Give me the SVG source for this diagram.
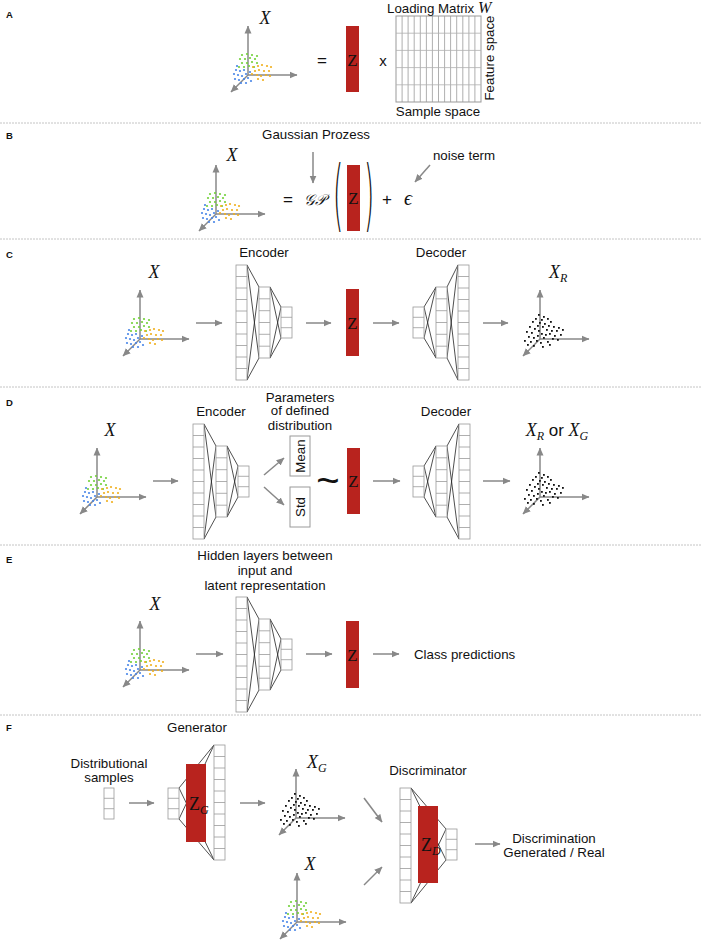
<svg xmlns="http://www.w3.org/2000/svg" xmlns:xlink="http://www.w3.org/1999/xlink" width="702" height="941" viewBox="0 0 702 941">
<style>
.lbl{font-family:"Liberation Sans",Arial,sans-serif;font-size:13.3px;fill:#111}
.mid{text-anchor:middle}
.pl{font-family:"Liberation Sans",Arial,sans-serif;font-size:9.5px;font-weight:bold;fill:#111}
.mx{font-family:"Liberation Serif","Times New Roman",serif;font-style:italic;font-size:18px;fill:#111}
.cell{fill:#fff;stroke:#9a9a9a;stroke-width:0.8}
.cl{stroke:#9a9a9a;stroke-width:0.8;fill:none}
.conn{stroke:#222;stroke-width:0.8;fill:none}
.red{fill:#b8231e}
.arr{stroke:#888;stroke-width:1.5;fill:none;marker-end:url(#ah)}
.ax{stroke:#888;stroke-width:1.5;fill:none;marker-end:url(#ah)}
.sep{stroke:#c4c4c4;stroke-width:1;stroke-dasharray:2 1}
.g{fill:#72d13a}.b{fill:#4a86e8}.o{fill:#f0b020}.k{fill:#111}
.box{fill:#fff;stroke:#9a9a9a;stroke-width:1}
.par{font-family:"DejaVu Sans",sans-serif;font-weight:200;font-size:79px;fill:#111}
</style>
<defs>
<marker id="ah" markerUnits="userSpaceOnUse" markerWidth="8" markerHeight="8" viewBox="0 0 8 8" refX="7.5" refY="4" orient="auto">
<path d="M0,0.5 L8,4 L0,7.5 z" fill="#888"/>
</marker>
<g id="axes">
<line class="ax" x1="0" y1="0" x2="0" y2="-49"/>
<line class="ax" x1="0" y1="0" x2="49" y2="0"/>
<line class="ax" x1="0" y1="0" x2="-17" y2="17"/>
</g>
<g id="cdots">
<g class="g">
<circle cx="-6" cy="-20" r="1.1"/><circle cx="-1" cy="-21" r="1.1"/><circle cx="4" cy="-20" r="1.1"/><circle cx="9" cy="-19" r="1.1"/>
<circle cx="-8" cy="-16" r="1.1"/><circle cx="-3" cy="-16" r="1.1"/><circle cx="2" cy="-17" r="1.1"/><circle cx="7" cy="-16" r="1.1"/>
<circle cx="-6" cy="-12" r="1.1"/><circle cx="-1" cy="-12" r="1.1"/><circle cx="4" cy="-13" r="1.1"/><circle cx="9" cy="-12" r="1.1"/>
<circle cx="-9" cy="-8" r="1.1"/><circle cx="-4" cy="-8" r="1.1"/><circle cx="1" cy="-9" r="1.1"/><circle cx="6" cy="-8" r="1.1"/>
</g>
<g class="o">
<circle cx="5" cy="-8" r="1.1"/><circle cx="10" cy="-9" r="1.1"/><circle cx="14" cy="-10" r="1.1"/><circle cx="19" cy="-9" r="1.1"/><circle cx="23" cy="-8" r="1.1"/>
<circle cx="7" cy="-4" r="1.1"/><circle cx="11" cy="-5" r="1.1"/><circle cx="16" cy="-4" r="1.1"/><circle cx="21" cy="-4" r="1.1"/>
<circle cx="4" cy="-1" r="1.1"/><circle cx="9" cy="0" r="1.1"/><circle cx="13" cy="1" r="1.1"/><circle cx="18" cy="0" r="1.1"/><circle cx="22" cy="1" r="1.1"/>
<circle cx="10" cy="4" r="1.1"/><circle cx="15" cy="5" r="1.1"/>
</g>
<g class="b">
<circle cx="-11" cy="-9" r="1.1"/><circle cx="-12" cy="-5" r="1.1"/><circle cx="-8" cy="-4" r="1.1"/><circle cx="-4" cy="-5" r="1.1"/>
<circle cx="-14" cy="-1" r="1.1"/><circle cx="-10" cy="0" r="1.1"/><circle cx="-6" cy="1" r="1.1"/><circle cx="-2" cy="-1" r="1.1"/><circle cx="2" cy="-3" r="1.1"/>
<circle cx="-13" cy="4" r="1.1"/><circle cx="-9" cy="5" r="1.1"/><circle cx="-4" cy="4" r="1.1"/><circle cx="0" cy="3" r="1.1"/>
<circle cx="-7" cy="8" r="1.1"/><circle cx="-2" cy="8" r="1.1"/><circle cx="3" cy="6" r="1.1"/>
</g>
</g>
<g id="kdots" class="k">
<rect x="-2" y="-25" width="1.8" height="1.8"/><rect x="3" y="-23" width="1.8" height="1.8"/><rect x="-5" y="-21" width="1.8" height="1.8"/><rect x="1" y="-20" width="1.8" height="1.8"/><rect x="7" y="-21" width="1.8" height="1.8"/>
<rect x="-8" y="-18" width="1.8" height="1.8"/><rect x="-1" y="-17" width="1.8" height="1.8"/><rect x="4" y="-16" width="1.8" height="1.8"/><rect x="10" y="-18" width="1.8" height="1.8"/>
<rect x="-3" y="-14" width="1.8" height="1.8"/><rect x="2" y="-13" width="1.8" height="1.8"/><rect x="8" y="-14" width="1.8" height="1.8"/><rect x="13" y="-13" width="1.8" height="1.8"/><rect x="18" y="-12" width="1.8" height="1.8"/>
<rect x="-11" y="-13" width="1.8" height="1.8"/><rect x="-6" y="-11" width="1.8" height="1.8"/><rect x="6" y="-10" width="1.8" height="1.8"/><rect x="11" y="-9" width="1.8" height="1.8"/><rect x="16" y="-9" width="1.8" height="1.8"/><rect x="22" y="-10" width="1.8" height="1.8"/>
<rect x="-14" y="-8" width="1.8" height="1.8"/><rect x="-9" y="-7" width="1.8" height="1.8"/><rect x="-2" y="-9" width="1.8" height="1.8"/><rect x="1" y="-6" width="1.8" height="1.8"/><rect x="5" y="-5" width="1.8" height="1.8"/><rect x="9" y="-6" width="1.8" height="1.8"/><rect x="14" y="-4" width="1.8" height="1.8"/><rect x="20" y="-5" width="1.8" height="1.8"/>
<rect x="-12" y="-3" width="1.8" height="1.8"/><rect x="-7" y="-2" width="1.8" height="1.8"/><rect x="-3" y="-4" width="1.8" height="1.8"/><rect x="3" y="-2" width="1.8" height="1.8"/><rect x="12" y="-1" width="1.8" height="1.8"/><rect x="17" y="0" width="1.8" height="1.8"/>
<rect x="-16" y="1" width="1.8" height="1.8"/><rect x="-10" y="2" width="1.8" height="1.8"/><rect x="-4" y="1" width="1.8" height="1.8"/><rect x="0" y="3" width="1.8" height="1.8"/><rect x="7" y="2" width="1.8" height="1.8"/>
<rect x="-13" y="5" width="1.8" height="1.8"/><rect x="-7" y="6" width="1.8" height="1.8"/><rect x="2" y="7" width="1.8" height="1.8"/><rect x="9" y="5" width="1.8" height="1.8"/>
</g>
</defs>
<rect width="702" height="941" fill="#fff"/>

<!-- separators -->
<g id="separators">
<line class="sep" x1="0" y1="123" x2="702" y2="123"/>
<line class="sep" x1="0" y1="239" x2="702" y2="239"/>
<line class="sep" x1="0" y1="387" x2="702" y2="387"/>
<line class="sep" x1="0" y1="545" x2="702" y2="545"/>
<line class="sep" x1="0" y1="715" x2="702" y2="715"/>
</g>

<!-- panel labels -->
<g id="panel-labels">
<text class="pl" x="6" y="18">A</text>
<text class="pl" x="6" y="139">B</text>
<text class="pl" x="6" y="258">C</text>
<text class="pl" x="6" y="406">D</text>
<text class="pl" x="6" y="563">E</text>
<text class="pl" x="6" y="731">F</text>
</g>

<!-- ===== Panel A ===== -->
<g id="A-data">
<text class="mx mid" x="265" y="24">X</text>
<use xlink:href="#axes" transform="translate(248,75)"/>
<use xlink:href="#cdots" transform="translate(248,75)"/>
</g>
<g id="A-eq"><text class="lbl mid" x="322" y="66" style="font-size:17px">=</text></g>
<g id="A-Z">
<rect class="red" x="346" y="26" width="13" height="66"/>
<text class="mx mid" x="352.5" y="65.5" style="font-style:normal;font-size:17px">Z</text>
</g>
<g id="A-times"><text class="lbl mid" x="383" y="66" style="font-size:15px">x</text></g>
<g id="A-matrix">
<rect x="396" y="16" width="85" height="86" fill="#fff" stroke="#999" stroke-width="1"/>
<path class="cl" d="M402.1,16V102M408.1,16V102M414.2,16V102M420.3,16V102M426.4,16V102M432.4,16V102M438.5,16V102M444.6,16V102M450.6,16V102M456.7,16V102M462.8,16V102M468.9,16V102M474.9,16V102"/>
<path d="M396,33.2H481M396,50.4H481M396,67.6H481M396,84.8H481" stroke="#b0b0b0" stroke-width="0.8"/>
<text class="lbl" x="387" y="13">Loading Matrix <tspan class="mx" style="font-size:16px">W</tspan></text>
<text class="lbl mid" transform="translate(494,58) rotate(-90)">Feature space</text>
<text class="lbl mid" x="438" y="115.5">Sample space</text>
</g>

<!-- ===== Panel B ===== -->
<g id="B-data">
<text class="mx mid" x="232" y="161">X</text>
<use xlink:href="#axes" transform="translate(216,214)"/>
<use xlink:href="#cdots" transform="translate(216,214)"/>
</g>
<g id="B-gp-label"><text class="lbl mid" x="316" y="138.5">Gaussian Prozess</text></g>
<g id="B-formula">
<text class="lbl mid" x="288" y="205" style="font-size:17px">=</text>
<text x="315" y="205" text-anchor="middle" style="font-family:'DejaVu Serif','Noto Sans',serif;font-size:15px;font-style:italic;fill:#111">𝒢𝒫</text>
<text class="par" transform="translate(333,222) scale(0.33,1)">(</text>
<rect class="red" x="347" y="165" width="13" height="66"/>
<text class="mx mid" x="353.5" y="204" style="font-style:normal;font-size:17px">Z</text>
<text class="par" transform="translate(364,222) scale(0.33,1)">)</text>
<text class="lbl mid" x="387" y="205" style="font-size:17px">+</text>
<text class="mx mid" x="408" y="205" style="font-size:20px">ϵ</text>
</g>
<g id="B-noise"><text class="lbl mid" x="464" y="159.5">noise term</text></g>

<!-- ===== Panel C ===== -->
<g id="C-input">
<text class="mx mid" x="154" y="278">X</text>
<use xlink:href="#axes" transform="translate(140,339)"/>
<use xlink:href="#cdots" transform="translate(140,339)"/>
</g>
<g id="C-encoder">
<text class="lbl mid" x="264" y="256.5">Encoder</text>
<path class="conn" d="M247,265L259,287M247,265L259,358M247,380L259,287M247,380L259,358M270,287L281,307M270,287L281,338M270,358L281,307M270,358L281,338"/>
<rect class="cell" x="236" y="265" width="11" height="115"/>
<path class="cl" d="M236,276.5h11M236,288h11M236,299.5h11M236,311h11M236,322.5h11M236,334h11M236,345.5h11M236,357h11M236,368.5h11"/>
<rect class="cell" x="259" y="287" width="11" height="71"/>
<path class="cl" d="M259,298.8h11M259,310.7h11M259,322.5h11M259,334.3h11M259,346.2h11"/>
<rect class="cell" x="281" y="307" width="11" height="31"/>
<path class="cl" d="M281,317.3h11M281,327.7h11"/>
</g>
<g id="C-latent">
<rect class="red" x="346" y="289" width="13" height="67"/>
<text class="mx mid" x="352.5" y="328.5" style="font-style:normal;font-size:17px">Z</text>
</g>
<g id="C-decoder">
<text class="lbl mid" x="441" y="256.5">Decoder</text>
<path class="conn" d="M424,307L436,287M424,307L436,358M424,338L436,287M424,338L436,358M447,287L458,265M447,287L458,380M447,358L458,265M447,358L458,380"/>
<rect class="cell" x="413" y="307" width="11" height="31"/>
<path class="cl" d="M413,317.3h11M413,327.7h11"/>
<rect class="cell" x="436" y="287" width="11" height="71"/>
<path class="cl" d="M436,298.8h11M436,310.7h11M436,322.5h11M436,334.3h11M436,346.2h11"/>
<rect class="cell" x="458" y="265" width="11" height="115"/>
<path class="cl" d="M458,276.5h11M458,288h11M458,299.5h11M458,311h11M458,322.5h11M458,334h11M458,345.5h11M458,357h11M458,368.5h11"/>
</g>
<g id="C-output">
<text class="mx" x="549" y="278">X<tspan dy="4" style="font-size:12px">R</tspan></text>
<use xlink:href="#axes" transform="translate(540,339)"/>
<use xlink:href="#kdots" transform="translate(540,339)"/>
</g>

<!-- ===== Panel D ===== -->
<g id="D-input">
<text class="mx mid" x="110" y="436">X</text>
<use xlink:href="#axes" transform="translate(97,497)"/>
<use xlink:href="#cdots" transform="translate(97,497)"/>
</g>
<g id="D-encoder">
<text class="lbl mid" x="221" y="415.5">Encoder</text>
<path class="conn" d="M204,424L216,446M204,424L216,517M204,539L216,446M204,539L216,517M227,446L238,466M227,446L238,497M227,517L238,466M227,517L238,497"/>
<rect class="cell" x="193" y="424" width="11" height="115"/>
<path class="cl" d="M193,435.5h11M193,447h11M193,458.5h11M193,470h11M193,481.5h11M193,493h11M193,504.5h11M193,516h11M193,527.5h11"/>
<rect class="cell" x="216" y="446" width="11" height="71"/>
<path class="cl" d="M216,457.8h11M216,469.7h11M216,481.5h11M216,493.3h11M216,505.2h11"/>
<rect class="cell" x="238" y="466" width="11" height="31"/>
<path class="cl" d="M238,476.3h11M238,486.7h11"/>
</g>
<g id="D-params">
<text class="lbl mid" x="300" y="401.5">Parameters</text>
<text class="lbl mid" x="300" y="415">of defined</text>
<text class="lbl mid" x="300" y="429.5">distribution</text>
</g>
<g id="D-mean">
<rect class="box" x="290" y="436" width="20" height="40"/>
<text class="lbl mid" transform="translate(305,456) rotate(-90)">Mean</text>
</g>
<g id="D-std">
<rect class="box" x="290" y="487" width="20" height="40"/>
<text class="lbl mid" transform="translate(305,507) rotate(-90)">Std</text>
</g>
<g id="D-tilde"><text class="lbl mid" x="328" y="494" style="font-size:40px">~</text></g>
<g id="D-latent">
<rect class="red" x="347" y="448" width="13" height="66"/>
<text class="mx mid" x="353.5" y="487" style="font-style:normal;font-size:17px">Z</text>
</g>
<g id="D-decoder">
<text class="lbl mid" x="446" y="415.5">Decoder</text>
<path class="conn" d="M424,466L436,446M424,466L436,517M424,497L436,446M424,497L436,517M447,446L459,424M447,446L459,539M447,517L459,424M447,517L459,539"/>
<rect class="cell" x="413" y="466" width="11" height="31"/>
<path class="cl" d="M413,476.3h11M413,486.7h11"/>
<rect class="cell" x="436" y="446" width="11" height="71"/>
<path class="cl" d="M436,457.8h11M436,469.7h11M436,481.5h11M436,493.3h11M436,505.2h11"/>
<rect class="cell" x="459" y="424" width="11" height="115"/>
<path class="cl" d="M459,435.5h11M459,447h11M459,458.5h11M459,470h11M459,481.5h11M459,493h11M459,504.5h11M459,516h11M459,527.5h11"/>
</g>
<g id="D-output">
<text class="mx mid" x="557" y="436"><tspan>X</tspan><tspan dy="4" style="font-size:12px">R</tspan><tspan dy="-4" class="lbl" style="font-style:normal;font-size:17px"> or </tspan><tspan>X</tspan><tspan dy="4" style="font-size:12px">G</tspan></text>
<use xlink:href="#axes" transform="translate(540,497)"/>
<use xlink:href="#kdots" transform="translate(540,497)"/>
</g>

<!-- ===== Panel E ===== -->
<g id="E-input">
<text class="mx mid" x="155" y="610">X</text>
<use xlink:href="#axes" transform="translate(140,670)"/>
<use xlink:href="#cdots" transform="translate(140,670)"/>
</g>
<g id="E-hidden">
<text class="lbl mid" x="265" y="559.5">Hidden layers between</text>
<text class="lbl mid" x="265" y="575">input and</text>
<text class="lbl mid" x="265" y="589.5">latent representation</text>
<path class="conn" d="M247,597L259,619M247,597L259,690M247,712L259,619M247,712L259,690M270,619L281,639M270,619L281,670M270,690L281,639M270,690L281,670"/>
<rect class="cell" x="236" y="597" width="11" height="115"/>
<path class="cl" d="M236,608.5h11M236,620h11M236,631.5h11M236,643h11M236,654.5h11M236,666h11M236,677.5h11M236,689h11M236,700.5h11"/>
<rect class="cell" x="259" y="619" width="11" height="71"/>
<path class="cl" d="M259,630.8h11M259,642.7h11M259,654.5h11M259,666.3h11M259,678.2h11"/>
<rect class="cell" x="281" y="639" width="11" height="31"/>
<path class="cl" d="M281,649.3h11M281,659.7h11"/>
</g>
<g id="E-latent">
<rect class="red" x="346" y="621" width="13" height="67"/>
<text class="mx mid" x="352.5" y="660.5" style="font-style:normal;font-size:17px">Z</text>
</g>
<g id="E-class"><text class="lbl" x="414" y="659">Class predictions</text></g>

<!-- ===== Panel F ===== -->
<g id="F-samples">
<text class="lbl mid" x="109" y="767.5">Distributional</text>
<text class="lbl mid" x="109" y="781.5">samples</text>
<rect class="cell" x="104" y="788" width="10" height="31"/>
<path class="cl" d="M104,798.3h10M104,808.7h10"/>
</g>
<g id="F-generator">
<text class="lbl mid" x="197" y="731.5">Generator</text>
<path class="conn" d="M179,788L214,745M179,788L214,860M179,819L214,745M179,819L214,860"/>
<rect class="cell" x="168" y="788" width="11" height="31"/>
<path class="cl" d="M168,798.3h11M168,808.7h11"/>
<rect class="red" x="186" y="764" width="20" height="78"/>
<text class="mx" x="189" y="810" style="font-style:normal">Z<tspan dy="4" style="font-size:12px;font-style:italic">G</tspan></text>
<rect class="cell" x="214" y="745" width="11" height="115"/>
<path class="cl" d="M214,756.5h11M214,768h11M214,779.5h11M214,791h11M214,802.5h11M214,814h11M214,825.5h11M214,837h11M214,848.5h11"/>
</g>
<g id="F-generated">
<text class="mx" x="307" y="768">X<tspan dy="4" style="font-size:12px">G</tspan></text>
<use xlink:href="#axes" transform="translate(296,818)"/>
<use xlink:href="#kdots" transform="translate(296,818)"/>
</g>
<g id="F-real">
<text class="mx mid" x="310" y="870">X</text>
<use xlink:href="#axes" transform="translate(297,922)"/>
<use xlink:href="#cdots" transform="translate(297,922)"/>
</g>
<g id="F-discriminator">
<text class="lbl mid" x="428" y="774.5">Discriminator</text>
<path class="conn" d="M411,788L446,829M411,788L446,860M411,903L446,829M411,903L446,860"/>
<rect class="cell" x="400" y="788" width="11" height="115"/>
<path class="cl" d="M400,799.5h11M400,811h11M400,822.5h11M400,834h11M400,845.5h11M400,857h11M400,868.5h11M400,880h11M400,891.5h11"/>
<rect class="red" x="418" y="806" width="20" height="77"/>
<text class="mx" x="421" y="851" style="font-style:normal">Z<tspan dy="4" style="font-size:12px;font-style:italic">D</tspan></text>
<rect class="cell" x="446" y="829" width="11" height="31"/>
<path class="cl" d="M446,839.3h11M446,849.7h11"/>
</g>
<g id="F-result">
<text class="lbl mid" x="554" y="842.5">Discrimination</text>
<text class="lbl mid" x="554" y="856.5">Generated / Real</text>
</g>

<!-- connectors -->
<g id="connectors">
<line class="arr" x1="313" y1="152" x2="313" y2="183"/>
<line class="arr" x1="430" y1="165" x2="415" y2="182"/>
<line class="arr" x1="196" y1="323" x2="222" y2="323"/>
<line class="arr" x1="306" y1="323" x2="331" y2="323"/>
<line class="arr" x1="373" y1="323" x2="399" y2="323"/>
<line class="arr" x1="483" y1="323" x2="508" y2="323"/>
<line class="arr" x1="153" y1="481" x2="178" y2="481"/>
<line class="arr" x1="264" y1="475" x2="284" y2="458"/>
<line class="arr" x1="264" y1="487" x2="284" y2="505"/>
<line class="arr" x1="373" y1="481" x2="400" y2="481"/>
<line class="arr" x1="483" y1="481" x2="510" y2="481"/>
<line class="arr" x1="196" y1="654" x2="223" y2="654"/>
<line class="arr" x1="306" y1="654" x2="332" y2="654"/>
<line class="arr" x1="373" y1="654" x2="399" y2="654"/>
<line class="arr" x1="129" y1="803" x2="154" y2="803"/>
<line class="arr" x1="240" y1="803" x2="265" y2="803"/>
<line class="arr" x1="364" y1="798" x2="382" y2="822"/>
<line class="arr" x1="364" y1="885" x2="382" y2="867"/>
<line class="arr" x1="475" y1="844" x2="500" y2="844"/>
</g>
</svg>
